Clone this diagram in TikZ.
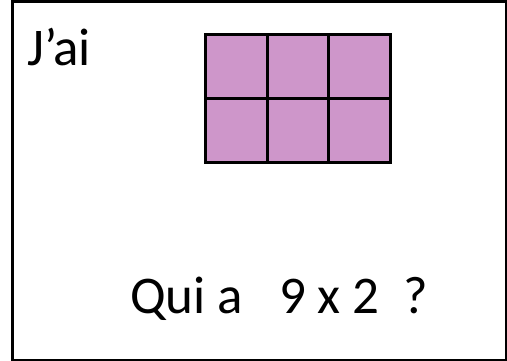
\documentclass[tikz,border=0pt]{standalone}
\usepackage{fontspec}
\setmainfont{Carlito}
\usetikzlibrary{positioning}
\definecolor{mauve}{RGB}{206,150,202}

\begin{document}
\begin{tikzpicture}[x=1pt,y=-1pt,
				cadre/.style={draw, line width=3pt},
				case/.style={draw, fill=mauve, line width=3pt, minimum width=61.7pt, minimum height=64pt, inner sep=0pt, anchor=north west},
				texte/.style={font=\fontsize{53}{62}\selectfont, inner sep=0pt, anchor=base west}
			]
			\useasboundingbox (0,0) rectangle (507,360);
			\node[cadre, minimum width=494pt, minimum height=359pt, inner sep=0pt, anchor=north west] (carte) at (10.5,-0.5) {};

			% Grille 3 x 2
			\foreach \i in {0,1,2} {
				\foreach \j in {0,1} {
					\node[case] (c\i\j) at (204+61.7*\i, 33+64*\j) {};
				}
			}

			% Textes
			\node[texte] (jai) at (27,65) {J’ai};
			\node[texte] (qui) at (130,313) {Qui a\ \ \ 9 x 2\ \ ?};
		\end{tikzpicture}
\end{document}
